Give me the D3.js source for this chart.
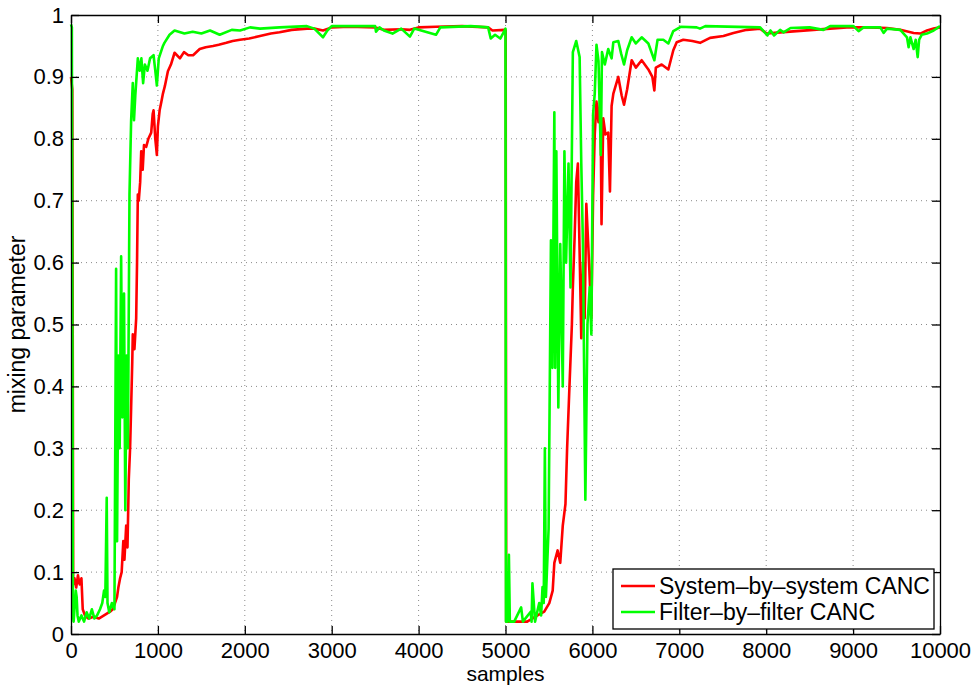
<!DOCTYPE html>
<html>
<head>
    <meta charset="utf-8">
    <script src="https://cdn.jsdelivr.net/npm/d3@7"></script>
    <style>
        * { margin: 0; padding: 0; }
        body { background: #fff; }
        svg { display: block; font-family: "Liberation Sans", Arial, sans-serif; }
    </style>
</head>
<body>
    <svg id="chart" width="975" height="687"></svg>
    <script>
        // System-by-system CANC (red)
        var systemX = [0, 15, 25, 40, 60, 80, 100, 120, 135, 160, 200, 260, 320, 380, 449, 480, 506, 530, 545, 565, 583, 602, 615, 635, 650,
            665, 680, 692, 705, 711, 730, 750, 760, 769, 780, 796, 808, 825, 840, 865, 890, 923, 940, 950, 970, 988, 1000, 1020, 1040, 1058,
            1080, 1115, 1150, 1192, 1254, 1300, 1350, 1405, 1481, 1550, 1634, 1700, 1788, 1860, 1945, 2050, 2175, 2300, 2400, 2540, 2715,
            2800, 2900, 3000, 3200, 3500, 3600, 3800, 3900, 4000, 4200, 4500, 4800, 4850, 4990, 5002, 5008, 5100, 5250, 5368, 5446, 5504,
            5543, 5562, 5600, 5630, 5659, 5690, 5709, 5736, 5764, 5775, 5795, 5814, 5833, 5853, 5872, 5891, 5911, 5930, 5955, 5988, 6008,
            6027, 6047, 6070, 6093, 6105, 6125, 6150, 6182, 6202, 6221, 6241, 6298, 6337, 6364, 6400, 6452, 6500, 6567, 6644, 6690, 6713,
            6730, 6797, 6874, 6931, 6970, 7046, 7150, 7239, 7354, 7508, 7623, 7776, 7930, 8006, 8160, 8352, 8544, 8736, 8928, 9159, 9390,
            9543, 9697, 9774, 9850, 9927, 10000];
        var systemMix = [0.90, 0.88, 0.08, 0.09, 0.075, 0.095, 0.08, 0.09, 0.04, 0.03, 0.025, 0.028, 0.025, 0.03, 0.036, 0.04, 0.05, 0.06,
            0.075, 0.09, 0.10, 0.15, 0.12, 0.175, 0.14, 0.25, 0.30, 0.366, 0.44, 0.484, 0.46, 0.51, 0.60, 0.71, 0.70, 0.73, 0.78, 0.75, 0.79,
            0.787, 0.80, 0.81, 0.84, 0.846, 0.80, 0.774, 0.82, 0.846, 0.86, 0.873, 0.885, 0.909, 0.92, 0.939, 0.93, 0.94, 0.935, 0.935, 0.945,
            0.948, 0.95, 0.952, 0.955, 0.958, 0.96, 0.962, 0.966, 0.97, 0.972, 0.976, 0.978, 0.978, 0.975, 0.98, 0.981, 0.98, 0.976, 0.977,
            0.976, 0.98, 0.981, 0.982, 0.98, 0.975, 0.976, 0.975, 0.02, 0.02, 0.02, 0.03, 0.036, 0.05, 0.07, 0.115, 0.135, 0.115, 0.175, 0.21,
            0.30, 0.40, 0.50, 0.56, 0.64, 0.73, 0.76, 0.616, 0.478, 0.60, 0.51, 0.695, 0.62, 0.51, 0.708, 0.807, 0.86, 0.827, 0.866, 0.662,
            0.833, 0.807, 0.81, 0.715, 0.853, 0.873, 0.90, 0.87, 0.855, 0.88, 0.927, 0.915, 0.927, 0.912, 0.90, 0.878, 0.915, 0.92, 0.912,
            0.943, 0.956, 0.96, 0.958, 0.955, 0.963, 0.966, 0.971, 0.976, 0.978, 0.97, 0.972, 0.974, 0.976, 0.978, 0.98, 0.98, 0.979, 0.976,
            0.971, 0.97, 0.975, 0.978, 0.98];

        // Filter-by-filter CANC (green)
        var filterX = [0, 10, 22, 30, 45, 55, 65, 75, 90, 120, 150, 180, 210, 240, 270, 300, 334, 360, 380, 395, 411, 420, 440, 470, 500,
            519, 530, 545, 560, 577, 590, 610, 625, 640, 655, 673, 692, 711, 725, 740, 769, 790, 810, 830, 850, 880, 910, 950, 970, 988,
            1010, 1058, 1075, 1134, 1192, 1305, 1400, 1500, 1600, 1711, 1850, 1945, 2060, 2175, 2400, 2715, 2800, 2900, 2950, 3000, 3500,
            3510, 3550, 3600, 3700, 3800, 3900, 3950, 4200, 4250, 4600, 4800, 4830, 4880, 4940, 4990, 5000, 5005, 5020, 5039, 5050, 5100,
            5180, 5200, 5290, 5300, 5310, 5340, 5388, 5410, 5426, 5440, 5453, 5465, 5496, 5523, 5540, 5562, 5572, 5585, 5608, 5630, 5659,
            5678, 5697, 5725, 5748, 5775, 5814, 5853, 5872, 5891, 5919, 5943, 5969, 5988, 6008, 6027, 6047, 6070, 6097, 6110, 6143, 6182,
            6221, 6241, 6298, 6330, 6364, 6400, 6452, 6500, 6567, 6644, 6713, 6750, 6816, 6874, 6931, 7016, 7200, 7238, 7300, 7930, 8014,
            8050, 8090, 8160, 8200, 8280, 8500, 8659, 8736, 9005, 9063, 9120, 9313, 9351, 9390, 9543, 9620, 9639, 9660, 9697, 9720, 9743,
            9760, 9789, 9850, 9927, 10000];
        var filterMix = [0.985, 0.98, 0.03, 0.02, 0.05, 0.07, 0.06, 0.03, 0.02, 0.03, 0.02, 0.035, 0.025, 0.04, 0.025, 0.03, 0.04, 0.05,
            0.07, 0.06, 0.22, 0.05, 0.035, 0.05, 0.04, 0.59, 0.15, 0.45, 0.30, 0.61, 0.35, 0.55, 0.20, 0.45, 0.30, 0.71, 0.83, 0.89, 0.83,
            0.87, 0.93, 0.91, 0.93, 0.89, 0.92, 0.91, 0.93, 0.935, 0.91, 0.886, 0.93, 0.95, 0.955, 0.968, 0.975, 0.97, 0.973, 0.97, 0.975,
            0.968, 0.976, 0.975, 0.98, 0.978, 0.98, 0.982, 0.978, 0.964, 0.975, 0.982, 0.982, 0.973, 0.98, 0.975, 0.97, 0.978, 0.965, 0.978,
            0.968, 0.98, 0.982, 0.98, 0.962, 0.968, 0.962, 0.975, 0.978, 0.02, 0.02, 0.128, 0.02, 0.02, 0.043, 0.02, 0.036, 0.02, 0.082, 0.02,
            0.05, 0.03, 0.076, 0.05, 0.30, 0.06, 0.17, 0.636, 0.43, 0.843, 0.43, 0.78, 0.366, 0.63, 0.40, 0.78, 0.60, 0.76, 0.56, 0.94, 0.958,
            0.932, 0.76, 0.63, 0.217, 0.50, 0.56, 0.484, 0.84, 0.873, 0.952, 0.926, 0.774, 0.94, 0.92, 0.945, 0.93, 0.956, 0.958, 0.938, 0.92,
            0.943, 0.964, 0.954, 0.964, 0.954, 0.927, 0.96, 0.96, 0.954, 0.974, 0.981, 0.98, 0.978, 0.982, 0.98, 0.967, 0.975, 0.967, 0.976,
            0.972, 0.979, 0.98, 0.976, 0.982, 0.982, 0.974, 0.98, 0.98, 0.971, 0.978, 0.976, 0.964, 0.948, 0.964, 0.945, 0.96, 0.932, 0.96,
            0.968, 0.97, 0.975, 0.982];

        var xTicks = [0, 1000, 2000, 3000, 4000, 5000, 6000, 7000, 8000, 9000, 10000];
        var yTicks = [0, 0.1, 0.2, 0.3, 0.4, 0.5, 0.6, 0.7, 0.8, 0.9, 1];
        var seriesNames = ["System\u2013by\u2013system CANC", "Filter\u2013by\u2013filter CANC"];
        var seriesColors = ["#ff0000", "#00ff00"];

        var margin = { top: 15, right: 35, bottom: 53, left: 71 },
            width = 975 - margin.left - margin.right,
            height = 687 - margin.top - margin.bottom;

        var svg = d3.select("#chart")
            .append("g")
            .attr("transform", "translate(" + margin.left + "," + margin.top + ")");

        var x = d3.scaleLinear().domain([0, 10000]).range([0, width]);
        var y = d3.scaleLinear().domain([0, 1]).range([height, 0]);

        // dotted grid
        svg.append("g").selectAll("line").data(xTicks.slice(1, -1)).enter().append("line")
            .attr("x1", function (d) { return x(d); }).attr("x2", function (d) { return x(d); })
            .attr("y1", 0).attr("y2", height)
            .attr("stroke", "#8a8a8a").attr("stroke-width", 1).attr("stroke-dasharray", "1,4");
        svg.append("g").selectAll("line").data(yTicks.slice(1, -1)).enter().append("line")
            .attr("x1", 0).attr("x2", width)
            .attr("y1", function (d) { return y(d); }).attr("y2", function (d) { return y(d); })
            .attr("stroke", "#8a8a8a").attr("stroke-width", 1).attr("stroke-dasharray", "1,4");

        var line = d3.line()
            .x(function (d) { return x(d[0]); })
            .y(function (d) { return y(d[1]); });

        var systemData = d3.zip(systemX, systemMix);
        var filterData = d3.zip(filterX, filterMix);

        [systemData, filterData].forEach(function (data, i) {
            svg.append("path")
                .datum(data)
                .attr("d", line)
                .attr("fill", "none")
                .attr("stroke", seriesColors[i])
                .attr("stroke-width", 2.6)
                .attr("stroke-linejoin", "round");
        });

        // axes, ticks inside like matlab
        var fmtY = function (d) { return String(+d.toFixed(1)); };
        svg.append("g").attr("class", "axis").attr("transform", "translate(0," + height + ")")
            .call(d3.axisBottom(x).tickValues(xTicks).tickSize(-8).tickSizeOuter(0).tickPadding(8).tickFormat(d3.format("d")));
        svg.append("g").attr("class", "axis")
            .call(d3.axisTop(x).tickValues(xTicks).tickSize(-8).tickSizeOuter(0).tickFormat(""));
        svg.append("g").attr("class", "axis")
            .call(d3.axisLeft(y).tickValues(yTicks).tickSize(-8).tickSizeOuter(0).tickPadding(7).tickFormat(fmtY));
        svg.append("g").attr("class", "axis").attr("transform", "translate(" + width + ",0)")
            .call(d3.axisRight(y).tickValues(yTicks).tickSize(-8).tickSizeOuter(0).tickFormat(""));

        svg.selectAll(".axis path").attr("stroke", "#000").attr("stroke-width", 1.3);
        svg.selectAll(".axis line").attr("stroke", "#000").attr("stroke-width", 1.3);
        svg.selectAll(".axis text").attr("fill", "#000").style("font-size", "22px")
            .style("font-family", "'Liberation Sans', Arial, sans-serif");

        svg.append("text")
            .attr("x", width / 2)
            .attr("y", height + 47)
            .attr("text-anchor", "middle")
            .style("font-size", "21px")
            .text("samples");

        svg.append("text")
            .attr("transform", "translate(-46," + (height / 2) + ") rotate(-90)")
            .attr("text-anchor", "middle")
            .style("font-size", "23px")
            .text("mixing parameter");

        // legend
        var legend = svg.append("g").attr("transform", "translate(" + (width - 327) + "," + (height - 65) + ")");
        legend.append("rect")
            .attr("width", 321).attr("height", 60)
            .attr("fill", "#fff").attr("stroke", "#000").attr("stroke-width", 1.3);
        seriesNames.forEach(function (name, i) {
            var g = legend.append("g").attr("transform", "translate(0," + (17 + i * 26) + ")");
            g.append("line").attr("x1", 8).attr("x2", 42).attr("y1", 0).attr("y2", 0)
                .attr("stroke", seriesColors[i]).attr("stroke-width", 2.6);
            g.append("text").attr("x", 46).attr("y", 8)
                .style("font-size", "23px").text(name);
        });
    </script>
</body>
</html>
